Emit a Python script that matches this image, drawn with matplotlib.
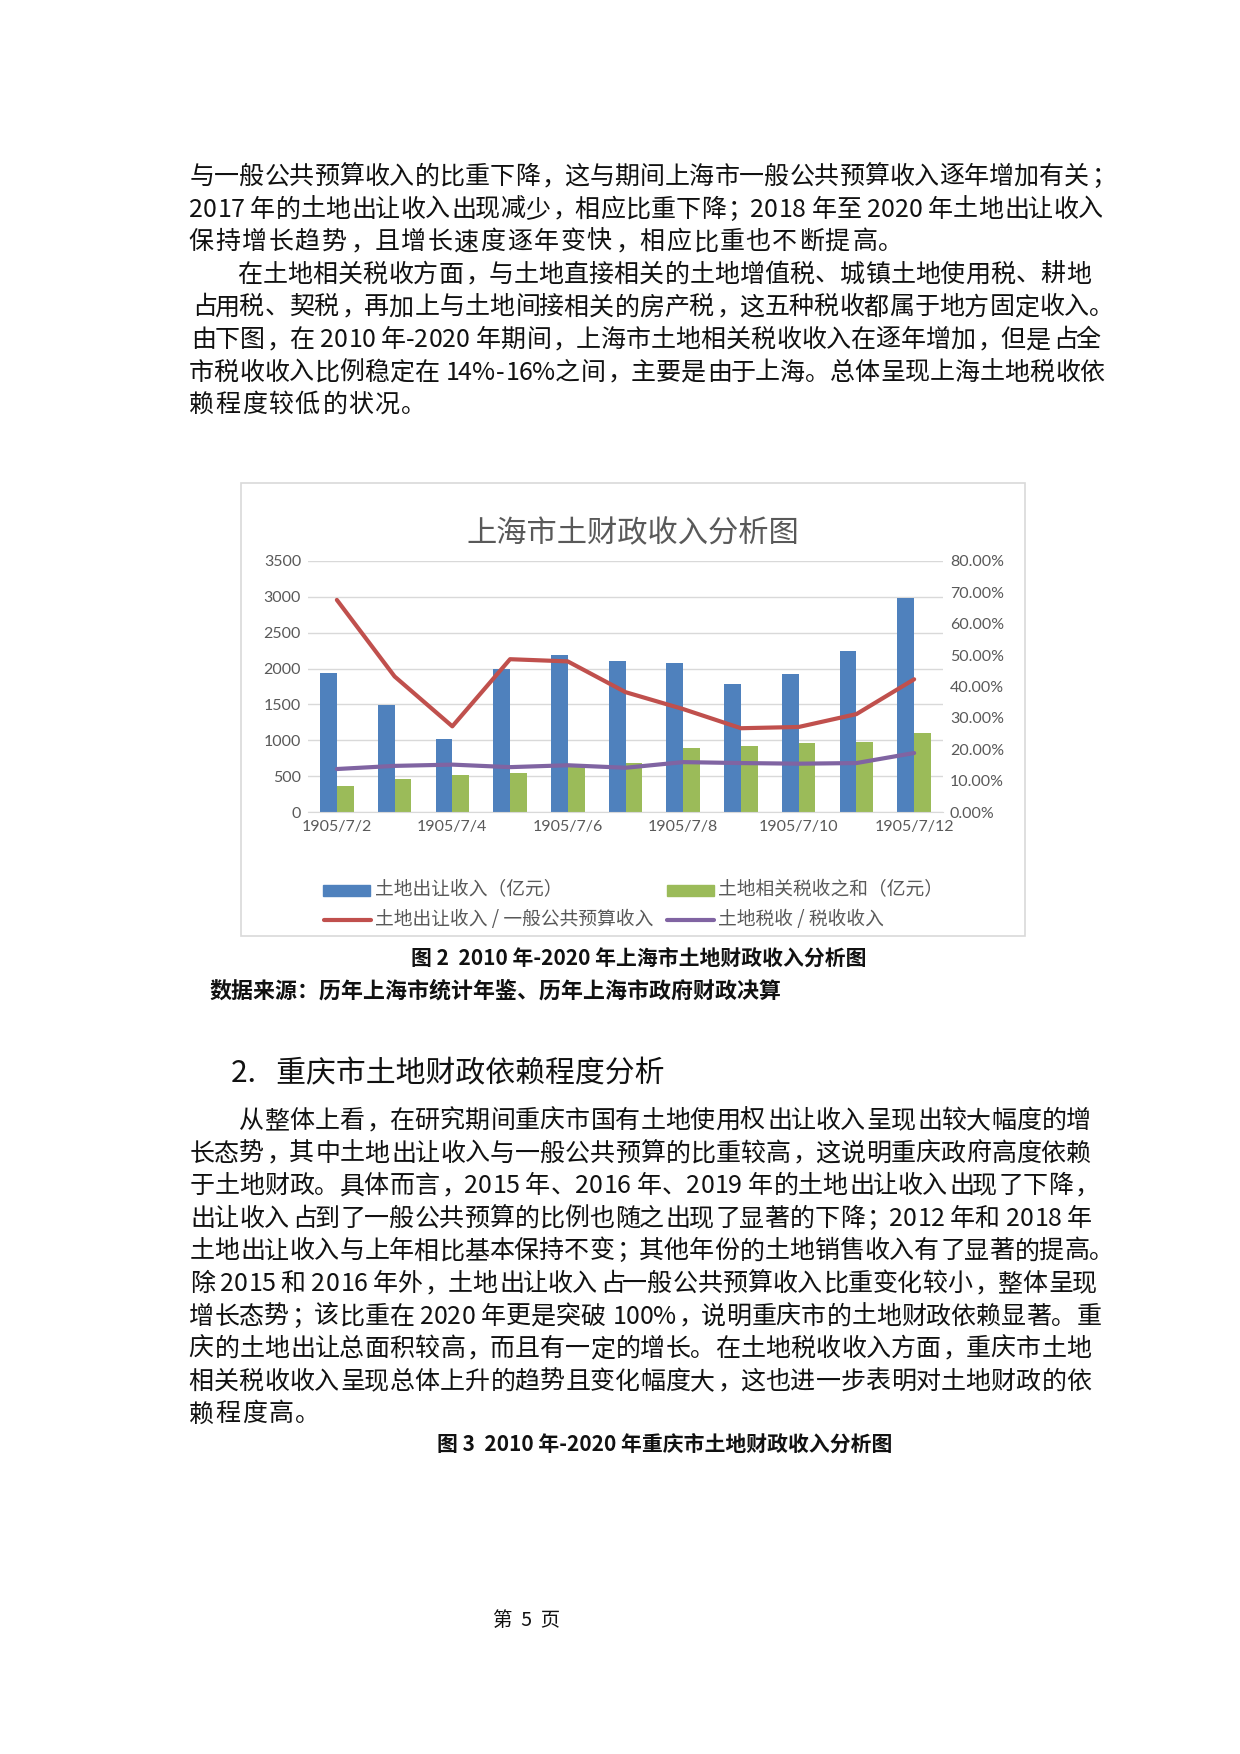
import matplotlib
matplotlib.use('Agg')
import matplotlib.pyplot as plt
from matplotlib.font_manager import FontProperties, findfont
from matplotlib.ft2font import FT2Font
from matplotlib.patches import Rectangle
from matplotlib.lines import Line2D
from matplotlib.ticker import FuncFormatter
import numpy as np

# ---- data ----
date_labels = ['1905/7/2', '1905/7/3', '1905/7/4', '1905/7/5', '1905/7/6', '1905/7/7',
               '1905/7/8', '1905/7/9', '1905/7/10', '1905/7/11', '1905/7/12']
land_sale = [1940, 1490, 1020, 2000, 2190, 2100, 2080, 1780, 1920, 2240, 2980]   # 亿元
land_tax = [367, 464, 511, 540, 640, 680, 896, 914, 966, 979, 1100]             # 亿元
sale_ratio = [0.676, 0.432, 0.273, 0.487, 0.480, 0.382, 0.328, 0.267, 0.271, 0.312, 0.423]
tax_ratio = [0.137, 0.147, 0.151, 0.143, 0.149, 0.141, 0.159, 0.156, 0.154, 0.156, 0.188]
left_ticks = [0, 500, 1000, 1500, 2000, 2500, 3000, 3500]
right_ticks = [0, 0.1, 0.2, 0.3, 0.4, 0.5, 0.6, 0.7, 0.8]

series_names = ['土地出让收入（亿元）', '土地相关税收之和（亿元）',
                '土地出让收入 / 一般公共预算收入', '土地税收 / 税收收入']

para1 = [
    '与一般公共预算收入的比重下降，这与期间上海市一般公共预算收入逐年增加有关；',
    '2017 年的土地出让收入出现减少，相应比重下降；2018 年至 2020 年土地出让收入',
    '保持增长趋势，且增长速度逐年变快，相应比重也不断提高。',
]
para2 = [
    '在土地相关税收方面，与土地直接相关的土地增值税、城镇土地使用税、耕地',
    '占用税、契税，再加上与土地间接相关的房产税，这五种税收都属于地方固定收入。',
    '由下图，在 2010 年-2020 年期间，上海市土地相关税收收入在逐年增加，但是占全',
    '市税收收入比例稳定在 14%-16%之间，主要是由于上海。总体呈现上海土地税收依',
    '赖程度较低的状况。',
]
para3 = [
    '从整体上看，在研究期间重庆市国有土地使用权出让收入呈现出较大幅度的增',
    '长态势，其中土地出让收入与一般公共预算的比重较高，这说明重庆政府高度依赖',
    '于土地财政。具体而言，2015 年、2016 年、2019 年的土地出让收入出现了下降，',
    '出让收入占到了一般公共预算的比例也随之出现了显著的下降；2012 年和 2018 年',
    '土地出让收入与上年相比基本保持不变；其他年份的土地销售收入有了显著的提高。',
    '除 2015 和 2016 年外，土地出让收入占一般公共预算收入比重变化较小，整体呈现',
    '增长态势；该比重在 2020 年更是突破 100%，说明重庆市的土地财政依赖显著。重',
    '庆的土地出让总面积较高，而且有一定的增长。在土地税收收入方面，重庆市土地',
    '相关税收收入呈现总体上升的趋势且变化幅度大，这也进一步表明对土地财政的依',
    '赖程度高。',
]

W, H, DPI = 1240, 1754, 100
CJK = ['Noto Sans CJK SC', 'DejaVu Sans']
GRAY = '#595959'
plt.rcParams['font.family'] = CJK

fig = plt.figure(figsize=(W / DPI, H / DPI), dpi=DPI)


def fx(x):
    return x / W


def fy(y):
    return 1 - y / H


# ---- justified body text, placed char by char ----
BODY_PT = 18
ft = FT2Font(findfont(FontProperties(family='Noto Sans CJK SC')))
ft.set_size(BODY_PT, DPI)


def advance(ch):
    g = ft.load_char(ord(ch))
    return g.linearHoriAdvance / 65536.0, g.horiBearingX / 64.0


def body_line(text, y, x0, x1=None, spacing=1.5):
    adv = [advance(c) for c in text]
    total = sum(a for a, b in adv)
    gap = spacing
    if x1 is not None and len(text) > 1:
        # a line that is too long just hangs past the margin, as in the original
        gap = max(0.0, (x1 - x0 - total) / (len(text) - 1))
    x = x0
    for c, (a, b) in zip(text, adv):
        if c != ' ':
            fig.text(fx(x + b), fy(y), c, fontsize=BODY_PT, color='#111111',
                     ha='left', va='center')
        x += a + gap


TXT_L, TXT_R = 188, 1090
y0 = 177
for i, line in enumerate(para1 + para2):
    last = (i == 2) or (i == len(para1) + len(para2) - 1)
    x0 = 236 if i == 3 else TXT_L
    body_line(line, y0 + 32.6 * i, x0, None if last else TXT_R)

y0 = 1121
for i, line in enumerate(para3):
    last = i == len(para3) - 1
    x0 = 238 if i == 0 else TXT_L
    body_line(line, y0 + 32.6 * i, x0, None if last else TXT_R)

fig.text(fx(231), fy(1074), '2.   重庆市土地财政依赖程度分析', fontsize=21.5,
         color='#111111', ha='left', va='center')

fig.text(fx(639), fy(958), '图 2  2010 年-2020 年上海市土地财政收入分析图', fontsize=15,
         fontweight='bold', color='#111111', ha='center', va='center')
fig.text(fx(209), fy(991), '数据来源：历年上海市统计年鉴、历年上海市政府财政决算', fontsize=15.8,
         fontweight='bold', color='#111111', ha='left', va='center')
fig.text(fx(665), fy(1444), '图 3  2010 年-2020 年重庆市土地财政收入分析图', fontsize=15,
         fontweight='bold', color='#111111', ha='center', va='center')
fig.text(fx(527), fy(1620), '第  5  页', fontsize=14, color='#111111',
         ha='center', va='center')

# ---- chart frame ----
fig.add_artist(Rectangle((fx(241), fy(936)), fx(1025 - 241), (936 - 483) / H,
                         transform=fig.transFigure, fill=False,
                         edgecolor='#D9D9D9', lw=1.2))
fig.text(fx(633), fy(534), '上海市土财政收入分析图', fontsize=21.8, color=GRAY,
         ha='center', va='center')

# ---- axes ----
ax = fig.add_axes([fx(308), fy(812), fx(943 - 308), (812 - 561) / H])
ax2 = ax.twinx()

x = np.arange(len(land_sale))
bw = 0.29
ax.bar(x - bw / 2, land_sale, bw, color='#4F81BD', zorder=2)
ax.bar(x + bw / 2, land_tax, bw, color='#9BBB59', zorder=2)
ax2.plot(x, sale_ratio, color='#C0504D', lw=3, solid_capstyle='round')
ax2.plot(x, tax_ratio, color='#8064A2', lw=3, solid_capstyle='round')

ax.set_xlim(-0.5, len(x) - 0.5)
ax.set_ylim(0, 3500)
ax2.set_ylim(0, 0.8)
ax.set_yticks(left_ticks)
ax2.set_yticks(right_ticks)
ax2.yaxis.set_major_formatter(FuncFormatter(lambda v, p: f'{v * 100:.2f}%'))
ax.set_xticks(x[::2])
ax.set_xticklabels(date_labels[::2])
ax.grid(axis='y', color='#D9D9D9', lw=1, zorder=0)
ax.set_axisbelow(True)

for a in (ax, ax2):
    for s in a.spines.values():
        s.set_visible(False)
    a.tick_params(length=0, colors=GRAY, labelsize=11.5)
    for lab in a.get_xticklabels() + a.get_yticklabels():
        lab.set_fontfamily(['Lato', 'DejaVu Sans'])
ax.spines['bottom'].set_visible(True)
ax.spines['bottom'].set_color('#D9D9D9')
ax.tick_params(axis='y', pad=5)
ax.tick_params(axis='x', pad=6)
ax2.tick_params(axis='y', pad=5)

# ---- legend, laid out as in the original ----
def leg_patch(xl, y, color):
    fig.add_artist(Rectangle((fx(xl), fy(y + 5.5)), fx(47), 11 / H,
                             transform=fig.transFigure, color=color))


def leg_line(xl, y, color):
    fig.add_artist(Line2D([fx(xl), fx(xl + 47)], [fy(y), fy(y)],
                          transform=fig.transFigure, color=color, lw=3,
                          solid_capstyle='round'))


leg_patch(323, 890, '#4F81BD')
leg_patch(667, 890, '#9BBB59')
leg_line(324, 920, '#C0504D')
leg_line(667, 920, '#8064A2')
for (lx, ly), name in zip([(375, 890), (718, 890), (375, 920), (718, 920)], series_names):
    fig.text(fx(lx), fy(ly), name, fontsize=13.5, color=GRAY, ha='left', va='center')

fig.savefig('out.png', dpi=DPI, facecolor='white')
